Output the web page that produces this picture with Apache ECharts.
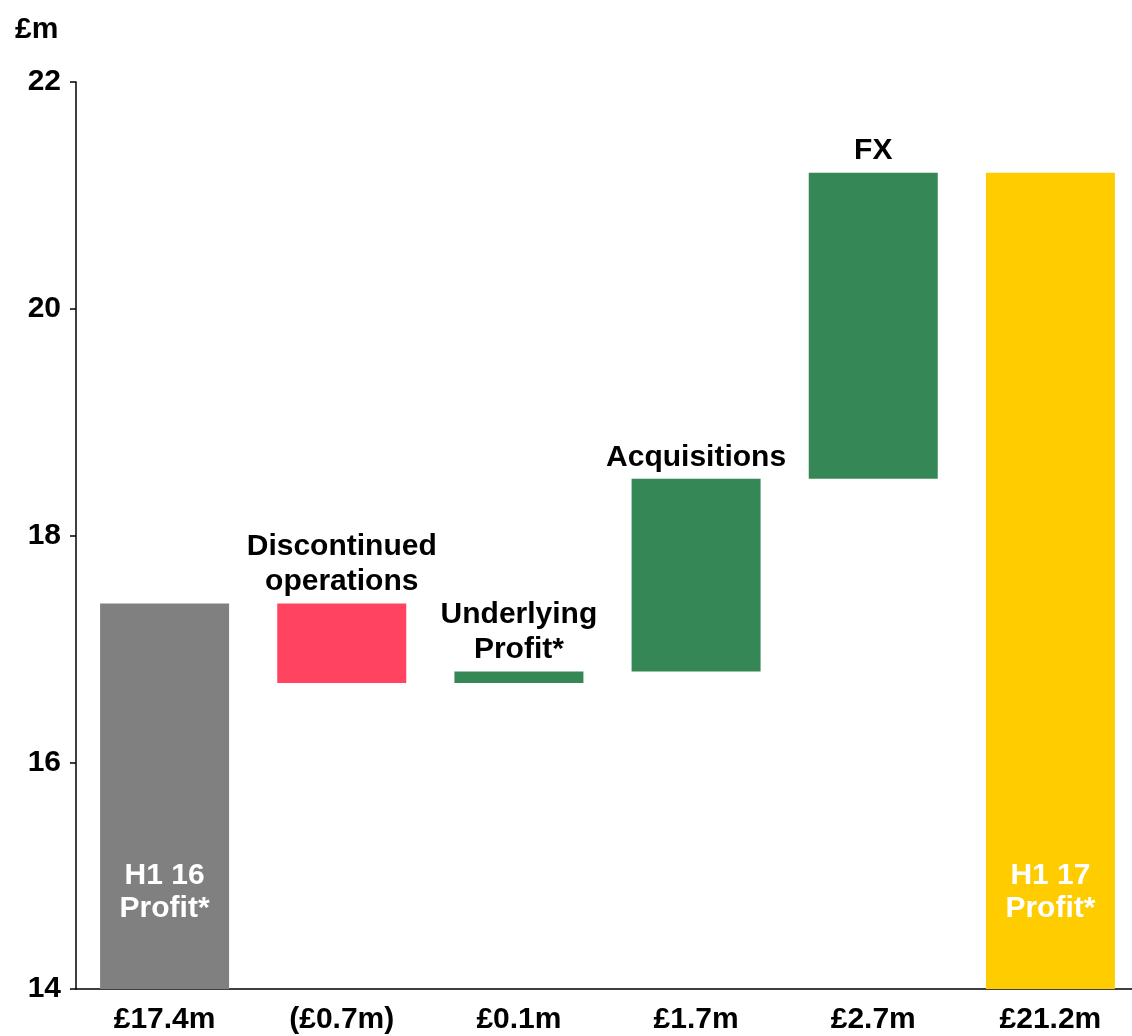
<!DOCTYPE html>
<html>
<head>
<meta charset="utf-8">
<script src="https://cdn.jsdelivr.net/npm/echarts@6/dist/echarts.min.js"></script>
<style>
  html, body { margin: 0; padding: 0; background: #fff; }
  #chart { width: 1132px; height: 1036px; }
</style>
</head>
<body>
<div id="chart"></div>
<script>
  // waterfall data, £m
  var categories = ['£17.4m', '(£0.7m)', '£0.1m', '£1.7m', '£2.7m', '£21.2m']
  var baseValues = [0, 16.7, 16.7, 16.8, 18.5, 0]     // invisible part of each stack
  var barValues = [17.4, 0.7, 0.1, 1.7, 2.7, 21.2]    // visible part
  var barLabels = ['H1 16\nProfit*', 'Discontinued\noperations', 'Underlying\nProfit*', 'Acquisitions', 'FX', 'H1 17\nProfit*']
  var barColors = ['#808080', '#FF4361', '#358856', '#358856', '#358856', '#FFCC00']
  var yTicks = [14, 16, 18, 20, 22]

  var font = "'Liberation Sans', Arial, sans-serif"

  var visibleData = barValues.map(function (v, i) {
    var isTotal = (i === 0 || i === barValues.length - 1)
    return {
      value: v,
      itemStyle: {color: barColors[i]},
      label: isTotal ? {
        position: 'insideBottom',
        distance: 64,
        lineHeight: 33,
        color: '#fff'
      } : {
        position: 'top',
        distance: 4,
        color: '#000'
      }
    }
  })

  var chart = echarts.init(document.getElementById('chart'))
  chart.setOption({
    animation: false,
    title: {
      text: '£m',
      left: 10,
      top: 10,
      textStyle: {fontFamily: font, fontSize: 30, fontWeight: 'bold', color: '#000'}
    },
    // plot runs a little past the right edge, like the original
    grid: {left: 76, width: 1063, top: 82, bottom: 47, containLabel: false, outerBoundsMode: 'none'},
    xAxis: {
      type: 'category',
      data: categories,
      axisLine: {lineStyle: {color: '#000', width: 1.5}},
      axisTick: {show: false},
      axisLabel: {
        margin: 16,
        fontFamily: font,
        fontSize: 30,
        fontWeight: 'bold',
        color: '#000'
      }
    },
    yAxis: {
      type: 'value',
      min: yTicks[0],
      max: yTicks[yTicks.length - 1],
      interval: 2,
      splitLine: {show: false},
      axisLine: {show: true, lineStyle: {color: '#000', width: 1.5}},
      axisTick: {show: true, length: 6, lineStyle: {color: '#000', width: 1.5}},
      axisLabel: {
        margin: 15,
        fontFamily: font,
        fontSize: 30,
        fontWeight: 'bold',
        color: '#000'
      }
    },
    series: [
      {
        name: 'base',
        type: 'bar',
        stack: 'wf',
        barWidth: 129,
        silent: true,
        itemStyle: {color: 'transparent'},
        data: baseValues
      },
      {
        name: 'change',
        type: 'bar',
        stack: 'wf',
        barWidth: 129,
        label: {
          show: true,
          formatter: function (p) { return barLabels[p.dataIndex] },
          fontFamily: font,
          fontSize: 30,
          fontWeight: 'bold',
          lineHeight: 35,
          align: 'center'
        },
        data: visibleData
      }
    ]
  })
</script>
</body>
</html>
